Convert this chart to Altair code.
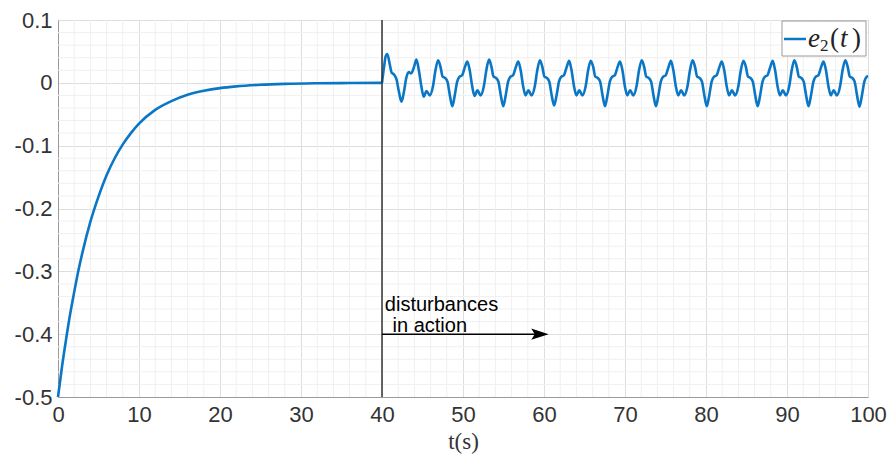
import altair as alt
import pandas as pd

# ---- data ----
t_decay = [0, 0.5, 1, 1.5, 2, 2.5, 3, 4, 5, 6, 7, 8, 9, 10, 12, 14, 16, 18, 20, 22, 25, 28, 32, 36, 40]
e_decay = [-0.5, -0.451, -0.408, -0.368, -0.333, -0.300, -0.271, -0.221, -0.181, -0.147, -0.120,
           -0.098, -0.080, -0.065, -0.043, -0.029, -0.019, -0.0127, -0.0084, -0.0056, -0.003,
           -0.0016, -0.0007, -0.0003, 0.0]

c0_t = [40.25, 40.45, 40.65, 40.95, 41.2, 41.5, 41.8, 42.1, 42.4, 42.7, 43.0, 43.3, 43.6, 43.95, 44.25, 44.55, 44.85, 45.15, 45.5, 45.9, 46.3, 46.6]
c0_e = [0.025, 0.042, 0.046, 0.030, 0.016, 0.013, 0.005, -0.015, -0.030, -0.015, 0.008, 0.017, 0.015, 0.025, 0.037, 0.020, -0.005, -0.022, -0.013, -0.020, -0.005, 0.020]
c1_t = [46.93, 47.23, 47.48, 47.78, 48.08, 48.38, 48.68, 48.98, 49.28, 49.58, 49.88, 50.23, 50.53, 50.83, 51.13, 51.43, 51.78, 52.18, 52.58, 52.88]
c1_e = [0.036, 0.025, 0.010, 0.008, 0.002, -0.020, -0.037, -0.020, 0.002, 0.010, 0.012, 0.025, 0.034, 0.020, -0.005, -0.021, -0.012, -0.020, -0.005, 0.020]
c2_t = [53.22, 53.52, 53.77, 54.07, 54.37, 54.67, 54.97, 55.27, 55.57, 55.87, 56.17, 56.52, 56.82, 57.12, 57.42, 57.72, 58.07, 58.47, 58.87, 59.17]
c2_e = [0.037, 0.025, 0.010, 0.008, 0.002, -0.020, -0.037, -0.020, 0.002, 0.010, 0.012, 0.025, 0.034, 0.020, -0.005, -0.020, -0.012, -0.020, -0.005, 0.020]
c3_t = [59.50, 59.80, 60.05, 60.35, 60.65, 60.95, 61.25, 61.55, 61.85, 62.15, 62.45, 62.80, 63.10, 63.40, 63.70, 64.00, 64.35, 64.75, 65.15, 65.45]
c3_e = [0.036, 0.025, 0.010, 0.008, 0.002, -0.020, -0.036, -0.020, 0.002, 0.010, 0.012, 0.025, 0.035, 0.020, -0.005, -0.020, -0.012, -0.020, -0.005, 0.020]
c4_t = [65.78, 66.08, 66.33, 66.63, 66.93, 67.23, 67.53, 67.83, 68.13, 68.43, 68.73, 69.08, 69.38, 69.68, 69.98, 70.28, 70.63, 71.03, 71.43, 71.73]
c4_e = [0.035, 0.025, 0.010, 0.008, 0.002, -0.020, -0.037, -0.020, 0.002, 0.010, 0.012, 0.025, 0.034, 0.020, -0.005, -0.020, -0.012, -0.020, -0.005, 0.020]
c5_t = [72.07, 72.37, 72.62, 72.92, 73.22, 73.52, 73.82, 74.12, 74.42, 74.72, 75.02, 75.37, 75.67, 75.97, 76.27, 76.57, 76.92, 77.32, 77.72, 78.02]
c5_e = [0.036, 0.025, 0.010, 0.008, 0.002, -0.020, -0.037, -0.020, 0.002, 0.010, 0.012, 0.025, 0.035, 0.020, -0.005, -0.020, -0.012, -0.020, -0.005, 0.020]
c6_t = [78.35, 78.65, 78.90, 79.20, 79.50, 79.80, 80.10, 80.40, 80.70, 81.00, 81.30, 81.65, 81.95, 82.25, 82.55, 82.85, 83.20, 83.60, 84.00, 84.30]
c6_e = [0.036, 0.025, 0.010, 0.008, 0.002, -0.020, -0.037, -0.020, 0.002, 0.010, 0.012, 0.025, 0.034, 0.020, -0.005, -0.020, -0.012, -0.020, -0.005, 0.020]
c7_t = [84.63, 84.93, 85.18, 85.48, 85.78, 86.08, 86.38, 86.68, 86.98, 87.28, 87.58, 87.93, 88.23, 88.53, 88.83, 89.13, 89.48, 89.88, 90.28, 90.58]
c7_e = [0.035, 0.025, 0.010, 0.008, 0.002, -0.020, -0.037, -0.020, 0.002, 0.010, 0.012, 0.025, 0.035, 0.020, -0.005, -0.020, -0.012, -0.020, -0.005, 0.020]
c8_t = [90.91, 91.21, 91.46, 91.76, 92.06, 92.36, 92.66, 92.96, 93.26, 93.56, 93.86, 94.21, 94.51, 94.81, 95.11, 95.41, 95.76, 96.16, 96.56, 96.86]
c8_e = [0.036, 0.025, 0.010, 0.008, 0.002, -0.020, -0.037, -0.020, 0.002, 0.010, 0.012, 0.025, 0.034, 0.020, -0.005, -0.020, -0.012, -0.020, -0.005, 0.020]
c9_t = [97.20, 97.50, 97.75, 98.05, 98.35, 98.65, 98.95, 99.25, 99.55, 99.85, 100.0]
c9_e = [0.036, 0.025, 0.010, 0.008, 0.002, -0.020, -0.038, -0.020, 0.002, 0.010, 0.011]

x_ticks = [0, 10, 20, 30, 40, 50, 60, 70, 80, 90, 100]
y_ticks = [-0.5, -0.4, -0.3, -0.2, -0.1, 0.0, 0.1]
x_minor = [v for v in range(0, 101, 2) if v % 10 != 0]
y_minor = [round(-0.5 + 0.02 * i, 2) for i in range(31) if i % 5 != 0]

disturb_start = 40
arrow_end = 59.5
arrow_y = -0.4

# ---- build table ----
t_dist = c0_t + c1_t + c2_t + c3_t + c4_t + c5_t + c6_t + c7_t + c8_t + c9_t
e_dist = c0_e + c1_e + c2_e + c3_e + c4_e + c5_e + c6_e + c7_e + c8_e + c9_e
df_decay = pd.DataFrame({"t": t_decay, "e": e_decay})
df_dist = pd.DataFrame({"t": [t_decay[-1]] + t_dist, "e": [e_decay[-1]] + e_dist})

W, H = 810, 377
BLUE = "#0a76c6"
xs = alt.Scale(domain=[0, 100], nice=False)
ys = alt.Scale(domain=[-0.5, 0.1], nice=False)

ylabel = ("datum.value == 0 ? '0' : (datum.value < 0 ? '-' + format(-datum.value, '.1f') "
          ": format(datum.value, '.1f'))")

x_axis = alt.Axis(values=x_ticks, grid=True, gridColor="#dedede", ticks=False,
                  domainColor="#9a9a9a", labelFont="Liberation Sans", labelFontSize=22,
                  labelColor="#333333", labelPadding=7, labelFlush=False,
                  titleFont="Liberation Serif", titleFontSize=23, titleFontWeight="normal",
                  titleColor="#333333", titlePadding=5)
y_axis = alt.Axis(values=y_ticks, grid=True, gridColor="#dedede", ticks=False,
                  domainColor="#9a9a9a", labelFont="Liberation Sans", labelFontSize=22,
                  labelColor="#333333", labelPadding=6, labelExpr=ylabel, labelFlush=False)

minor_x = alt.Chart(pd.DataFrame({"x": x_minor})).mark_rule(
    color="#f0f0f0", strokeWidth=1).encode(x=alt.X("x:Q", scale=xs, axis=x_axis, title="t(s)"))
minor_y = alt.Chart(pd.DataFrame({"y": y_minor})).mark_rule(
    color="#f0f0f0", strokeWidth=1).encode(y=alt.Y("y:Q", scale=ys, axis=y_axis, title=None))

line_decay = alt.Chart(df_decay).mark_line(interpolate="monotone", color=BLUE, strokeWidth=2.6).encode(
    x=alt.X("t:Q", scale=xs, axis=x_axis, title="t(s)"),
    y=alt.Y("e:Q", scale=ys, axis=y_axis, title=None),
)
line_dist = alt.Chart(df_dist).mark_line(interpolate="monotone", color=BLUE, strokeWidth=2.6).encode(
    x=alt.X("t:Q", scale=xs, axis=x_axis, title="t(s)"),
    y=alt.Y("e:Q", scale=ys, axis=y_axis, title=None),
)

vline = alt.Chart(pd.DataFrame({"x": [disturb_start]})).mark_rule(
    color="#333333", strokeWidth=1.5).encode(x=alt.X("x:Q", scale=xs))

arrow_df = pd.DataFrame({"x": [disturb_start], "x2": [arrow_end], "y": [arrow_y]})
arrow_line = alt.Chart(arrow_df).mark_rule(color="black", strokeWidth=1.5).encode(
    x=alt.X("x:Q", scale=xs), x2="x2:Q", y=alt.Y("y:Q", scale=ys))
arrow_head = alt.Chart(arrow_df).mark_point(
    shape="M-1,-0.65L1,0L-1,0.65L-0.6,0Z", size=300, filled=True, color="black", opacity=1
).encode(x=alt.X("x2:Q", scale=xs), y=alt.Y("y:Q", scale=ys))

txt_df = pd.DataFrame({"x": [40.35, 41.3], "y": [-0.363, -0.397], "s": ["disturbances", "in action"]})
txt = alt.Chart(txt_df).mark_text(
    align="left", baseline="alphabetic", font="Liberation Sans", fontSize=20, color="black"
).encode(x=alt.X("x:Q", scale=xs), y=alt.Y("y:Q", scale=ys), text="s:N")

# legend box
leg_box = alt.Chart(pd.DataFrame({"a": [0]})).mark_rect(
    fill="white", stroke="#9a9a9a", strokeWidth=1).encode(
    x=alt.value(724), x2=alt.value(808), y=alt.value(1), y2=alt.value(36))
leg_line = alt.Chart(pd.DataFrame({"a": [0]})).mark_rule(color=BLUE, strokeWidth=2.5).encode(
    x=alt.value(726), x2=alt.value(748), y=alt.value(19))

def ch(s, x, y, size, style):
    return alt.Chart(pd.DataFrame({"s": [s]})).mark_text(
        align="left", baseline="alphabetic", font="Liberation Serif", fontSize=size,
        fontStyle=style, color="#222222").encode(x=alt.value(x), y=alt.value(y), text="s:N")

leg_txt = (ch("e", 750, 27, 27, "italic") + ch("2", 762, 31, 17, "normal") +
           ch("(", 772, 27, 27, "normal") + ch("t", 782, 27, 27, "italic") +
           ch(")", 794, 27, 27, "normal"))

chart = alt.layer(minor_x, minor_y, line_decay, line_dist, vline, arrow_line, arrow_head, txt,
                  leg_box, leg_line, leg_txt).properties(
    width=W, height=H,
    autosize=alt.AutoSizeParams(type="none"),
    padding={"left": 58, "top": 20, "right": 25, "bottom": 65},
).configure_view(stroke="#9a9a9a", strokeWidth=1).configure(background="white")

chart.save("out.html", embed_options={"renderer": "svg", "actions": False})
